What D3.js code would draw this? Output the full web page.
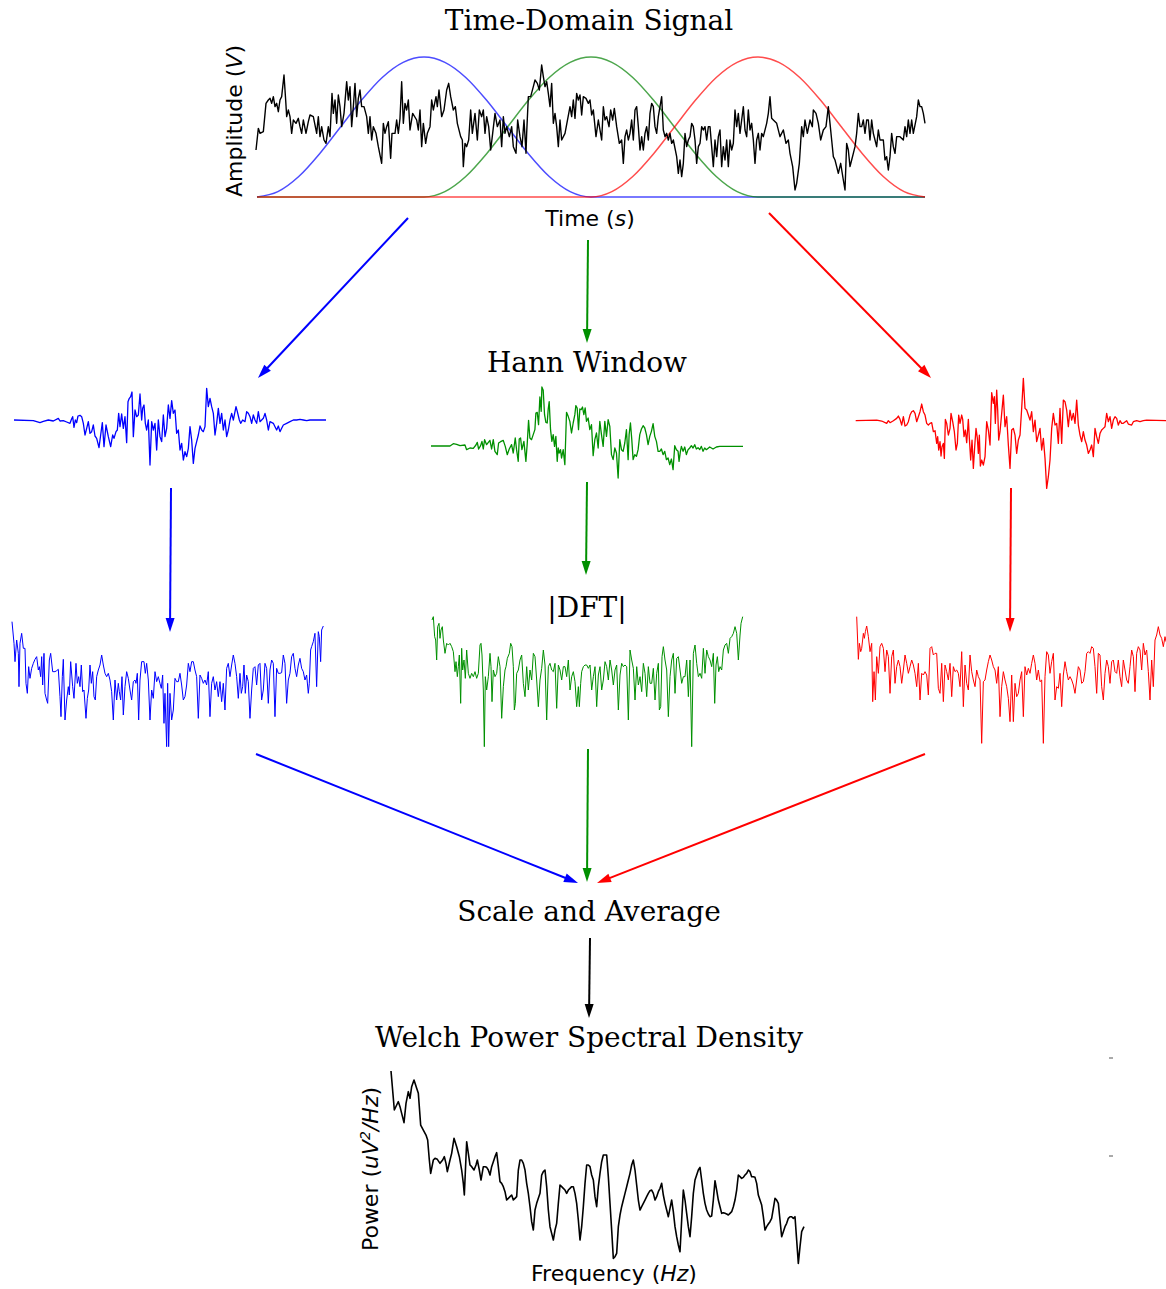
<!DOCTYPE html>
<html><head><meta charset="utf-8">
<script src="https://cdn.jsdelivr.net/npm/d3@7"></script>
<style>body{margin:0;background:#fff}</style>
</head><body>
<svg id="c" width="1166" height="1289" xmlns="http://www.w3.org/2000/svg"></svg>
<script>
// ---------------- DATA ----------------
// time-domain signal: [time sample, amplitude]
const signal = [[108,-50],[115,15],[120,0],[130,5],[138,90],[145,100],[150,105],[155,90],[160,110],[165,80],[170,90],[175,65],[180,100],[185,110],[192,175],[197,100],[200,50],[205,70],[210,50],[215,0],[220,40],[228,30],[235,45],[240,20],[245,0],[250,40],[258,0],[265,35],[270,55],[280,50],[290,0],[295,50],[300,-10],[305,20],[312,-20],[318,-30],[325,20],[330,-10],[336,120],[340,60],[345,100],[350,30],[355,115],[360,80],[365,20],[372,60],[380,155],[385,100],[390,140],[395,20],[400,80],[405,150],[410,50],[415,105],[420,130],[425,80],[432,80],[440,50],[445,0],[450,50],[455,-20],[460,20],[468,0],[475,-40],[485,-90],[490,30],[495,0],[500,20],[505,35],[512,-75],[516,0],[525,0],[530,40],[535,0],[540,45],[545,155],[550,30],[555,90],[560,70],[565,100],[570,10],[578,60],[590,40],[595,10],[600,70],[605,-40],[610,30],[617,-30],[622,0],[630,20],[635,100],[640,70],[648,110],[652,80],[657,130],[665,50],[672,70],[680,130],[686,150],[692,110],[700,70],[706,80],[712,30],[722,-10],[727,-20],[730,-100],[735,-30],[740,-40],[746,-20],[752,70],[757,0],[765,60],[772,-20],[778,70],[785,50],[790,70],[795,0],[800,50],[806,20],[812,-50],[818,0],[825,60],[832,20],[840,40],[845,-40],[850,50],[855,0],[860,20],[868,-10],[875,20],[880,-40],[888,-60],[893,40],[900,-10],[906,-40],[912,40],[918,-60],[920,0],[925,110],[932,110],[940,140],[945,160],[952,150],[958,130],[965,205],[970,170],[975,140],[980,155],[985,120],[990,80],[995,150],[1000,30],[1005,60],[1010,20],[1015,-40],[1020,40],[1025,-20],[1035,0],
[1050,80],[1055,50],[1060,100],[1065,45],[1070,120],[1075,100],[1080,115],[1085,55],[1090,110],[1098,105],[1105,90],[1110,100],[1115,55],[1120,70],[1128,-10],[1135,40],[1140,10],[1145,-20],[1150,80],[1155,40],[1160,50],[1167,20],[1172,70],[1178,40],[1183,75],[1190,20],[1198,-30],[1205,-20],[1210,-90],[1215,-10],[1220,10],[1225,-20],[1230,0],[1235,40],[1240,-20],[1245,70],[1250,80],[1255,20],[1260,-50],[1265,-10],[1270,-50],[1275,0],[1280,20],[1285,-20],[1290,60],[1295,90],[1300,80],[1305,20],[1310,0],[1315,50],[1320,80],[1325,110],[1330,10],[1335,-10],[1340,0],[1345,-20],[1350,0],[1355,-30],[1360,-20],[1370,-70],[1375,-120],[1380,-80],[1385,-130],[1390,-90],[1395,0],[1400,-40],[1405,-20],[1410,-10],[1415,30],[1420,20],[1425,-20],[1430,-90],[1435,-40],[1440,-30],[1445,20],[1450,10],[1455,20],[1460,-20],[1465,20],[1470,20],[1475,-40],[1480,-100],[1485,-20],[1490,-70],[1495,-10],[1500,10],[1505,-100],[1510,-40],[1515,-80],[1520,-20],[1525,-100],[1530,-20],[1535,-50],[1540,-30],[1545,70],[1550,20],[1555,60],[1560,0],[1565,40],[1570,80],[1575,10],[1580,-10],[1585,70],[1590,10],[1595,30],[1600,-20],[1605,-90],[1610,-20],[1615,0],[1620,-50],[1625,0],[1630,-10],[1640,30],[1645,60],[1650,110],[1655,45],[1660,40],[1670,30],[1680,-10],[1690,10],[1698,-30],[1705,-20],[1710,-60],[1718,-100],[1725,-170],[1730,-150],[1738,-90],[1745,20],[1750,-10],[1755,40],[1762,0],[1770,40],[1777,20],[1780,70],[1788,60],[1795,30],[1802,-20],[1810,10],[1818,20],[1825,80],[1830,30],[1835,-20],[1840,-70],[1845,-80],[1850,-100],[1855,-120],[1862,-90],[1870,-140],[1875,-170],[1880,-30],[1885,-50],[1890,-100],[1895,-80],[1900,-60],[1905,-40],[1910,0],[1915,60],[1920,20],[1925,20],[1930,40],[1935,0],[1940,40],[1945,40],[1950,-20],[1955,40],[1960,0],[1965,-20],[1970,-40],[1975,10],[1980,-20],[1990,-20],[1995,-80],[2000,-70],[2005,-110],[2010,-70],[2015,0],[2020,-40],[2025,-60],[2030,-10],[2040,-10],[2050,-20],[2055,20],[2060,-10],[2065,40],[2070,0],[2075,40],[2080,0],[2090,50],[2095,100],[2100,80],[2105,80],[2110,60],[2115,30]];

// Hann window shape (17 samples) and window start times
const hann = [0,0.038,0.146,0.309,0.5,0.691,0.854,0.962,1,0.962,0.854,0.691,0.5,0.309,0.146,0.038,0];
const windowStarts = [111, 612, 1113];
const windowLength = 1002;
const segmentNames = ["blue","green","red"];

// windowed segments: [sample, amplitude]
const windowedBlue = [[42,0],[100,-2],[120,-8],[130,-4],[145,0],[160,-3],[175,5],[180,-3],[190,-2],[200,-6],[210,-10],[215,4],[218,10],[222,-22],[226,0],[230,-8],[234,12],[240,14],[245,10],[250,-10],[255,-45],[260,-25],[265,-5],[270,-40],[275,-35],[280,-15],[285,-48],[290,-55],[297,-83],[302,-45],[307,-8],[312,-80],[318,-15],[325,-50],[332,-80],[338,-45],[342,-55],[348,-35],[352,-30],[356,20],[360,-20],[365,18],[370,-25],[375,10],[380,-68],[384,55],[388,65],[392,70],[396,84],[400,-50],[405,30],[410,10],[415,15],[420,78],[425,0],[428,35],[432,45],[436,-10],[440,-30],[445,0],[450,-135],[455,-5],[460,-30],[465,-10],[470,-90],[475,0],[480,-50],[485,-65],[490,15],[495,-50],[500,-25],[505,45],[510,5],[515,58],[520,20],[525,30],[530,-40],[535,-30],[540,-90],[545,-70],[550,-120],[555,-95],[560,-110],[565,-85],[570,-20],[575,-60],[580,-130],[585,-85],[590,-65],[595,-45],[600,-18],[605,-30],[610,-35],[615,-20],[620,95],[625,40],[630,65],[635,40],[640,20],[645,-45],[650,-10],[655,35],[660,-10],[665,20],[670,-30],[675,0],[680,-50],[685,-30],[690,0],[695,20],[700,0],[708,40],[712,25],[718,0],[722,-10],[728,0],[735,-5],[740,25],[745,20],[750,10],[755,-10],[760,15],[765,0],[770,-10],[775,25],[780,-5],[790,5],[795,20],[800,0],[805,-30],[810,-5],[820,-10],[825,-20],[830,-30],[835,-18],[840,-35],[845,-25],[850,-15],[860,-10],[870,-5],[880,0],[890,0],[900,2],[910,0],[920,-2],[930,0],[978,0]];
const windowedGreen = [[33,0],[90,0],[100,7],[110,5],[120,1],[135,3],[140,-11],[150,-6],[160,-7],[168,3],[172,11],[176,-9],[182,1],[186,14],[190,-9],[194,19],[200,4],[210,17],[215,-9],[220,19],[225,-16],[232,-26],[236,9],[242,13],[250,17],[256,-1],[262,-26],[268,-9],[275,4],[280,-21],[286,24],[290,-11],[295,-46],[298,21],[302,24],[306,-11],[312,14],[318,-46],[322,7],[326,77],[330,24],[335,19],[340,34],[345,49],[348,99],[352,101],[356,64],[360,147],[364,104],[366,177],[370,167],[374,94],[378,71],[382,69],[385,111],[388,133],[392,49],[396,14],[400,34],[404,-1],[408,29],[412,-46],[415,-6],[418,-21],[422,-11],[425,-36],[430,-11],[435,-56],[440,101],[445,89],[450,74],[455,39],[460,69],[465,94],[468,121],[472,114],[476,49],[480,111],[484,109],[488,117],[492,94],[496,114],[500,74],[505,84],[510,49],[515,64],[520,-29],[525,19],[530,39],[535,-6],[540,74],[545,34],[550,-1],[555,74],[560,29],[565,79],[570,59],[575,-26],[580,-41],[585,-6],[590,-21],[595,-96],[600,19],[605,-11],[610,-16],[615,9],[620,49],[625,-41],[628,34],[632,69],[636,19],[640,-41],[645,-26],[650,-31],[655,-11],[660,34],[665,51],[670,61],[675,54],[680,34],[685,4],[690,29],[695,44],[700,67],[705,29],[710,14],[715,-16],[720,-16],[725,-9],[730,-26],[735,-16],[740,-41],[745,-36],[750,-56],[755,-39],[760,-71],[765,1],[770,-11],[775,-16],[778,-46],[782,-16],[785,-1],[790,-16],[795,-3],[800,-26],[805,-11],[810,-6],[815,1],[820,-6],[825,4],[830,-9],[835,-5],[840,-11],[845,-1],[850,-16],[855,-6],[860,-11],[870,-3],[880,-9],[890,-3],[900,-1],[920,-1],[970,-1]];
const windowedRed = [[47,0],[110,2],[125,-1],[140,-8],[145,0],[150,-6],[160,0],[170,7],[175,14],[180,4],[185,-13],[190,12],[195,-16],[200,-13],[205,-3],[210,17],[215,27],[220,30],[225,22],[230,-3],[235,12],[240,27],[245,50],[250,27],[255,17],[260,-8],[265,-13],[270,-8],[275,-6],[280,-33],[285,-30],[290,-68],[293,-48],[296,-88],[300,-63],[303,-106],[306,-78],[310,-68],[313,-113],[316,4],[320,-8],[325,-43],[330,-23],[333,22],[338,-3],[343,-33],[348,-88],[352,-68],[356,17],[360,-8],[365,17],[368,4],[372,-48],[376,-28],[380,-66],[385,4],[388,-53],[392,-118],[396,-58],[400,-143],[404,-78],[408,-23],[412,-53],[415,-98],[418,-43],[421,-136],[425,-118],[430,-133],[435,-108],[440,-3],[445,-28],[450,-73],[455,84],[460,52],[463,72],[466,-8],[470,92],[473,32],[476,-58],[480,-33],[485,22],[490,77],[495,-18],[500,12],[505,-73],[510,-143],[515,-28],[520,-23],[525,-43],[530,-98],[535,-58],[540,-43],[545,37],[550,127],[555,37],[560,32],[565,17],[570,2],[575,27],[580,-33],[585,2],[590,-63],[595,-43],[600,-23],[605,-88],[610,-53],[615,-113],[620,-203],[625,-168],[630,-118],[635,-23],[640,22],[645,-13],[650,-8],[655,-68],[660,37],[665,-68],[670,62],[675,57],[680,32],[685,-18],[690,32],[695,2],[700,22],[705,-8],[710,62],[715,-13],[720,-43],[725,-63],[730,-33],[735,-58],[740,-73],[745,-98],[750,-88],[755,-73],[760,-108],[765,-23],[770,-48],[775,-68],[780,-38],[785,-28],[790,-23],[795,-18],[800,22],[805,-3],[810,12],[815,-23],[820,2],[825,12],[830,7],[835,-13],[840,0],[845,-8],[850,-8],[860,0],[865,-10],[875,-13],[880,-3],[890,0],[900,-3],[910,0],[920,2],[978,0]];

// |DFT| magnitudes: [bin, magnitude]
const dftBlue = [[36,415],[42,350],[45,295],[50,360],[55,320],[57,220],[60,350],[65,380],[70,335],[75,335],[78,230],[82,200],[86,280],[90,245],[95,275],[100,290],[105,302],[110,310],[115,270],[118,280],[122,250],[125,310],[128,225],[132,320],[135,200],[140,180],[143,170],[148,300],[152,320],[158,265],[165,265],[170,268],[175,272],[180,190],[183,130],[187,250],[190,302],[195,120],[200,180],[205,220],[208,195],[212,295],[218,220],[222,185],[228,290],[232,230],[236,250],[240,220],[244,285],[248,205],[252,210],[258,125],[262,185],[266,210],[270,285],[274,230],[278,265],[282,190],[286,180],[290,250],[295,270],[300,285],[305,315],[310,285],[315,260],[320,250],[325,260],[330,240],[335,205],[340,120],[345,240],[350,180],[355,230],[358,205],[362,180],[366,250],[370,135],[375,220],[380,265],[385,245],[390,210],[395,180],[400,235],[405,240],[408,230],[412,260],[416,120],[420,240],[425,295],[432,295],[436,260],[440,290],[445,240],[450,120],[455,210],[460,185],[465,265],[470,235],[475,250],[480,230],[484,215],[488,255],[492,110],[495,200],[500,40],[503,230],[506,40],[510,200],[515,120],[520,150],[525,245],[530,235],[535,235],[540,260],[545,225],[550,180],[555,190],[560,225],[565,290],[570,265],[575,295],[580,295],[585,270],[590,250],[595,125],[600,255],[605,245],[610,230],[615,240],[620,225],[625,265],[630,130],[635,230],[640,250],[645,210],[650,235],[655,190],[660,235],[665,175],[670,230],[675,150],[680,275],[685,290],[690,250],[695,285],[700,315],[705,290],[710,250],[715,185],[720,260],[724,200],[728,220],[732,285],[736,200],[740,255],[745,235],[750,125],[755,210],[760,275],[765,280],[770,225],[775,285],[780,290],[785,180],[790,210],[795,290],[800,275],[805,170],[810,270],[815,300],[820,290],[825,130],[830,275],[835,260],[840,260],[845,262],[850,315],[855,290],[860,170],[865,240],[870,260],[875,310],[880,320],[885,275],[890,250],[895,285],[900,305],[905,275],[910,265],[915,240],[920,255],[925,200],[928,230],[932,330],[935,340],[940,355],[945,380],[950,220],[955,385],[958,370],[962,295],[965,390],[970,402]];
const dftGreen = [[36,390],[40,400],[44,340],[47,330],[50,270],[53,370],[57,380],[60,335],[63,360],[67,370],[70,330],[75,290],[80,320],[85,315],[90,320],[95,310],[100,295],[105,235],[108,265],[112,220],[115,250],[118,285],[122,140],[125,305],[128,240],[132,270],[136,215],[140,300],[145,230],[150,215],[155,230],[160,220],[165,235],[170,215],[175,230],[180,315],[183,320],[186,285],[190,180],[193,10],[196,220],[200,180],[205,220],[210,290],[213,250],[216,145],[220,240],[225,220],[230,230],[235,280],[240,250],[245,95],[250,190],[255,240],[258,250],[262,275],[268,290],[272,320],[276,310],[280,250],[283,120],[286,140],[290,230],[295,240],[300,270],[305,285],[310,200],[315,160],[320,250],[325,180],[330,240],[335,210],[340,290],[345,280],[350,210],[355,130],[360,210],[365,245],[370,300],[375,255],[380,90],[385,250],[390,260],[395,240],[400,235],[405,260],[410,125],[415,255],[420,240],[425,210],[430,250],[435,250],[440,220],[445,270],[450,180],[455,220],[460,235],[465,205],[470,130],[475,190],[478,130],[482,200],[485,235],[490,250],[495,255],[500,255],[505,245],[510,255],[515,180],[520,220],[525,250],[530,130],[535,225],[540,250],[545,180],[550,210],[555,265],[560,250],[565,210],[570,270],[575,240],[580,195],[585,240],[590,255],[595,120],[600,225],[605,260],[610,250],[615,255],[620,250],[625,90],[630,300],[635,270],[640,245],[645,150],[650,250],[655,195],[660,220],[665,175],[670,260],[675,230],[680,160],[685,250],[690,200],[695,200],[700,245],[705,150],[710,230],[715,260],[718,120],[722,130],[726,280],[730,310],[735,270],[740,240],[745,100],[750,220],[755,270],[760,290],[765,170],[770,275],[775,280],[780,240],[785,200],[790,220],[795,220],[800,270],[805,160],[810,270],[815,10],[820,290],[825,315],[830,260],[835,220],[840,230],[845,215],[850,305],[855,230],[860,300],[865,280],[870,270],[875,250],[880,290],[884,140],[888,255],[892,280],[896,235],[900,250],[905,240],[910,300],[915,315],[920,320],[925,290],[930,335],[935,340],[940,350],[945,370],[950,350],[955,270],[960,345],[963,380],[968,400]];
const dftRed = [[50,400],[55,272],[58,320],[62,295],[65,305],[70,350],[73,335],[76,355],[80,372],[85,340],[90,295],[95,320],[98,145],[102,235],[106,150],[110,280],[115,230],[120,310],[125,320],[130,305],[135,235],[140,300],[145,280],[150,170],[155,280],[160,300],[165,200],[170,250],[175,270],[180,250],[185,200],[190,240],[195,285],[200,260],[205,230],[210,250],[215,270],[220,255],[225,230],[230,190],[235,260],[240,150],[245,230],[250,225],[255,235],[260,225],[265,165],[270,305],[275,310],[280,285],[285,290],[290,290],[295,185],[300,170],[305,260],[310,145],[315,255],[320,235],[325,210],[330,260],[335,160],[340,250],[345,235],[350,240],[355,230],[360,190],[365,295],[370,130],[375,255],[380,200],[385,180],[390,285],[395,235],[400,210],[405,190],[410,240],[415,220],[420,210],[425,20],[430,205],[435,210],[440,240],[445,265],[450,285],[455,270],[460,250],[465,240],[470,200],[475,250],[480,100],[485,190],[490,235],[495,210],[500,190],[505,155],[510,85],[515,225],[520,85],[525,200],[530,160],[535,170],[540,210],[545,235],[550,100],[555,250],[560,225],[565,245],[570,230],[575,260],[580,285],[585,260],[590,210],[595,240],[600,205],[605,210],[610,20],[615,220],[620,295],[625,285],[630,230],[635,265],[640,290],[645,150],[650,190],[655,185],[660,230],[665,130],[670,225],[675,265],[680,235],[685,210],[690,220],[695,210],[700,195],[705,170],[710,210],[715,250],[720,240],[725,200],[730,205],[735,235],[740,290],[745,295],[750,290],[755,310],[760,305],[765,250],[770,170],[775,290],[780,285],[785,190],[790,150],[795,230],[800,270],[805,250],[810,200],[815,265],[820,270],[825,235],[830,230],[835,270],[840,220],[845,190],[850,270],[855,240],[860,210],[865,200],[870,250],[875,300],[880,280],[885,175],[890,290],[895,310],[900,300],[905,240],[910,320],[915,285],[920,300],[925,235],[930,150],[935,270],[940,190],[945,330],[950,345],[955,370],[960,345],[965,335],[970,310],[975,340],[978,325]];

// Welch PSD: [frequency bin, power]
const psd = [[123,617],[133,500],[140,515],[145,525],[150,510],[155,490],[162,462],[168,520],[175,555],[180,535],[185,570],[192,590],[200,565],[205,550],[212,455],[220,440],[228,425],[233,410],[238,350],[242,310],[250,350],[255,355],[262,352],[270,340],[278,350],[283,360],[288,340],[292,315],[300,350],[305,370],[312,415],[320,390],[328,360],[335,320],[340,280],[343,245],[350,405],[355,370],[360,335],[365,330],[372,320],[378,335],[382,350],[388,320],[393,290],[400,330],[405,330],[410,328],[415,320],[420,305],[425,330],[430,345],[435,360],[440,372],[445,330],[450,285],[455,280],[460,270],[465,255],[470,230],[475,235],[480,240],[485,245],[490,230],[495,235],[500,240],[505,320],[510,350],[515,350],[520,340],[525,320],[530,280],[535,250],[540,210],[545,165],[550,140],[555,200],[560,220],[565,235],[570,250],[575,305],[580,315],[585,320],[590,270],[595,200],[600,150],[605,130],[610,110],[615,140],[620,160],[625,220],[630,275],[635,270],[640,265],[645,260],[650,250],[655,260],[660,265],[665,270],[670,270],[675,250],[680,220],[685,170],[690,110],[695,150],[700,210],[705,280],[710,335],[715,335],[720,330],[725,305],[730,290],[735,240],[740,210],[745,270],[750,310],[755,345],[760,365],[765,365],[770,365],[775,300],[780,220],[785,140],[790,55],[795,60],[800,70],[805,150],[810,185],[815,210],[820,230],[825,250],[830,270],[835,290],[840,310],[845,335],[850,350],[855,320],[860,275],[865,230],[870,200],[875,210],[880,220],[885,230],[890,240],[895,250],[900,258],[905,260],[910,250],[915,230],[920,240],[925,255],[930,265],[935,280],[940,245],[945,220],[950,200],[955,180],[960,205],[965,230],[970,195],[975,150],[980,120],[985,95],[990,75],[995,170],[1000,260],[1005,230],[1010,190],[1015,150],[1020,120],[1025,180],[1030,250],[1035,290],[1040,305],[1045,320],[1050,328],[1055,290],[1060,250],[1065,220],[1070,200],[1075,188],[1080,180],[1085,182],[1090,230],[1095,288],[1100,260],[1105,230],[1110,210],[1115,190],[1120,192],[1125,190],[1130,188],[1135,185],[1140,190],[1145,195],[1150,210],[1155,230],[1160,260],[1165,305],[1170,300],[1175,295],[1180,298],[1185,305],[1190,310],[1195,320],[1200,315],[1205,300],[1210,300],[1215,298],[1220,280],[1225,245],[1230,230],[1235,215],[1240,180],[1245,140],[1250,150],[1255,158],[1260,165],[1265,175],[1270,205],[1275,235],[1280,230],[1285,220],[1290,170],[1295,120],[1300,135],[1305,150],[1310,160],[1315,175],[1320,180],[1325,180],[1330,175],[1335,180],[1340,110],[1345,40],[1350,90],[1355,135],[1362,150]];

// labels
const titles = ["Time-Domain Signal","Hann Window","|DFT|","Scale and Average","Welch Power Spectral Density"];

// ---------------- DRAWING ----------------
const svg = d3.select("#c");
const COL = {blue:"#0000ff", green:"#009000", red:"#ff0000", black:"#000000"};
const HANNCOL = {blue:"#0000ff", green:"#008000", red:"#ff0000"};

// --- top panel
const tX = d3.scaleLinear().domain([108, 2115]).range([256, 925]);
const ampY = d3.scaleLinear().domain([-200, 400]).range([200, 0]);
const hannY = d3.scaleLinear().domain([0, 1]).range([197, 57]);

windowStarts.forEach((s, k) => {
  const pts = [];
  if (s > 111) pts.push([111, 0]);
  hann.forEach((h, i) => pts.push([s + i * windowLength / 16, h]));
  const e = s + windowLength;
  if (e < 2115) pts.push([2115, 0]);
  svg.append("path")
    .attr("d", d3.line().x(d => tX(d[0])).y(d => hannY(d[1])).curve(d3.curveMonotoneX)(pts))
    .attr("fill", "none").attr("stroke", HANNCOL[segmentNames[k]])
    .attr("stroke-opacity", 0.7).attr("stroke-width", 1.5);
});
svg.append("path")
  .attr("d", d3.line().x(d => tX(d[0])).y(d => ampY(d[1]))(signal))
  .attr("fill", "none").attr("stroke", "#000").attr("stroke-width", 1.4)
  .attr("stroke-linejoin", "round");

// --- windowed segments
function drawSeries(data, xd, xr, yd, yr, color, w) {
  const x = d3.scaleLinear().domain(xd).range(xr);
  const y = d3.scaleLinear().domain(yd).range(yr);
  svg.append("path")
    .attr("d", d3.line().x(d => x(d[0])).y(d => y(d[1]))(data))
    .attr("fill", "none").attr("stroke", color).attr("stroke-width", w)
    .attr("stroke-linejoin", "round");
}
drawSeries(windowedBlue, [42, 978], [14, 326], [-150, 150], [470, 370], COL.blue, 1.3);
drawSeries(windowedGreen, [33, 970], [431, 743], [-150, 150], [496, 396], COL.green, 1.3);
drawSeries(windowedRed, [47, 978], [855.7, 1166], [-150, 150], [470.7, 370.7], COL.red, 1.3);

// --- DFT magnitudes
drawSeries(dftBlue, [36, 970], [12, 323.3], [0, 450], [760, 610], COL.blue, 1.0);
drawSeries(dftGreen, [36, 968], [432, 742.7], [0, 450], [750, 600], COL.green, 1.0);
drawSeries(dftRed, [50, 978], [856.7, 1166], [0, 450], [750, 600], COL.red, 1.0);

// --- PSD
drawSeries(psd, [123, 1362], [391, 804], [0, 650], [1276.7, 1060], "#000", 1.6);

// --- arrows (layout)
const arrows = [
  [408,218,258,378,"blue"],[588,240,587,343,"green"],[769,213,931,378,"red"],
  [171,488,170,632,"blue"],[587,482,586,575,"green"],[1011,488,1010,632,"red"],
  [256,754,578,883,"blue"],[588,749,587,882,"green"],[925,754,597,883,"red"],
  [590,938,589,1018,"black"]
];
arrows.forEach(([x1,y1,x2,y2,c]) => {
  const dx = x2-x1, dy = y2-y1, L = Math.hypot(dx,dy), ux = dx/L, uy = dy/L;
  const hl = 14, hw = 4.5;
  const bx = x2 - ux*hl, by = y2 - uy*hl;
  svg.append("line").attr("x1",x1).attr("y1",y1).attr("x2",bx+ux*2).attr("y2",by+uy*2)
    .attr("stroke",COL[c]).attr("stroke-width",2);
  svg.append("path").attr("d",`M${x2},${y2}L${bx-uy*hw},${by+ux*hw}L${bx+uy*hw},${by-ux*hw}Z`)
    .attr("fill",COL[c]);
});

// --- titles (serif), baseline positions
const titlePos = [[589,29.5],[587,372],[587,617],[589,921],[589,1047]];
titles.forEach((t,i) => {
  svg.append("text").attr("x",titlePos[i][0]).attr("y",titlePos[i][1])
    .attr("text-anchor","middle")
    .attr("font-family","DejaVu Serif").attr("font-size",28).attr("fill","#000").text(t);
});

// --- axis labels (sans)
function label(x, y, rot, parts) {
  const t = svg.append("text").attr("transform",`translate(${x},${y}) rotate(${rot})`)
    .attr("text-anchor","middle")
    .attr("font-family","DejaVu Sans").attr("font-size",22).attr("fill","#000");
  parts.forEach(p => {
    const ts = t.append("tspan").text(p.t);
    if (p.i) ts.attr("font-style","italic");
    if (p.sup) ts.attr("baseline-shift","super").attr("font-size",14);
  });
}
label(242, 121, -90, [{t:"Amplitude ("},{t:"V",i:1},{t:")"}]);
label(590, 226, 0, [{t:"Time ("},{t:"s",i:1},{t:")"}]);
label(614, 1281, 0, [{t:"Frequency ("},{t:"Hz",i:1},{t:")"}]);
label(378, 1169, -90, [{t:"Power ("},{t:"uV",i:1},{t:"2",i:1,sup:1},{t:"/",i:1},{t:"Hz",i:1},{t:")"}]);

// tiny stray tick marks at right
[1058, 1156].forEach(yy => svg.append("line").attr("x1",1109).attr("x2",1113)
  .attr("y1",yy).attr("y2",yy).attr("stroke","#555").attr("stroke-width",1));
</script>
</body></html>
